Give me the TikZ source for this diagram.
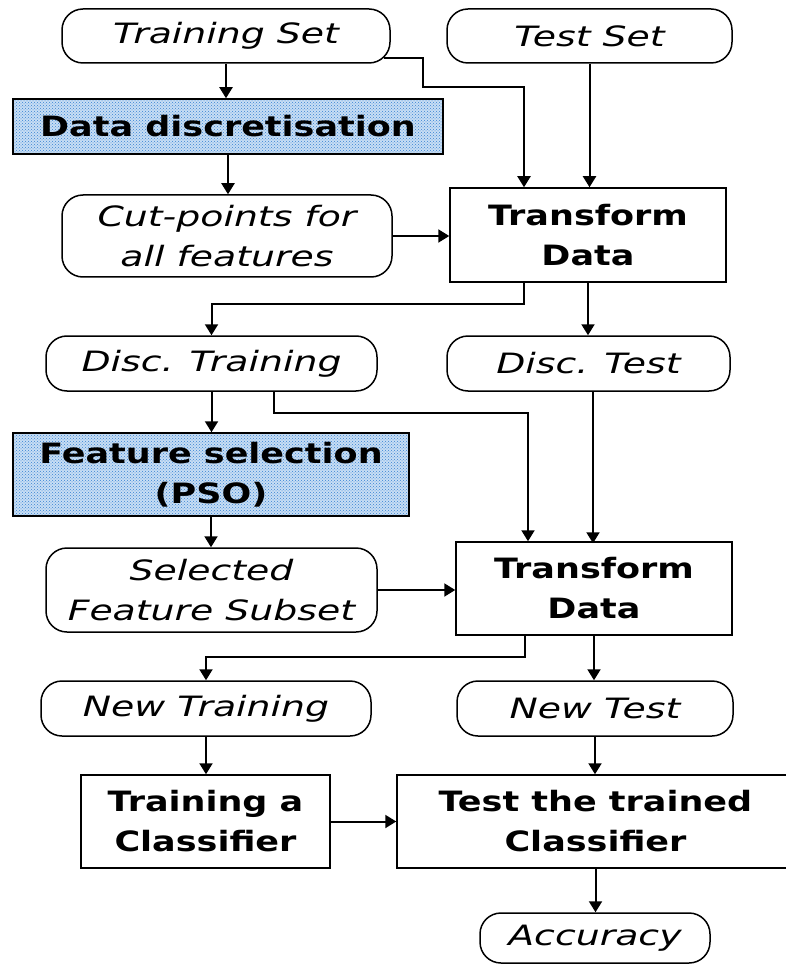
\documentclass[tikz,border=0pt]{standalone}
\usepackage{fontspec}
\usetikzlibrary{arrows.meta,patterns}
\newfontfamily\itf{DejaVu Sans}[FakeStretch=1.35]
\newfontfamily\bff{DejaVu Sans}[FakeStretch=1.25]
\definecolor{dotfill}{RGB}{200,222,244}
\definecolor{dotcol}{RGB}{55,130,210}
\tikzset{
  base/.style={draw, line width=1.5pt, inner sep=0pt, align=center, text=black},
  rbox/.style={base, rounded corners=21pt, font=\itf\itshape\fontsize{28}{40}\selectfont},
  sbox/.style={base, font=\bff\bfseries\fontsize{28}{40}\selectfont},
  dbox/.style={sbox, preaction={fill=dotfill}, pattern=crosshatch dots, pattern color=dotcol},
  arr/.style={line width=2pt, -{Triangle[length=11pt,width=13pt]}},
}
\begin{document}
\begin{tikzpicture}[x=1pt,y=-1pt]
\useasboundingbox (0,0) rectangle (785,965);
\fill[white] (0,0) rectangle (785,965);
% nodes
\node[rbox, minimum width=328pt, minimum height=54pt] (ts) at (226,36) {Training Set};
\node[rbox, minimum width=285pt, minimum height=54pt] (tst) at (589.5,36) {Test Set};
\node[dbox, minimum width=430pt, minimum height=55pt] (dd) at (228,126.5) {Data discretisation};
\node[rbox, minimum width=330pt, minimum height=82pt] (cp) at (227,236) {Cut-points for\\all features};
\node[sbox, minimum width=276pt, minimum height=94pt] (td1) at (588,235) {Transform\\Data};
\node[rbox, minimum width=331pt, minimum height=55pt] (dtr) at (211.5,363.5) {Disc. Training};
\node[rbox, minimum width=283pt, minimum height=55pt] (dte) at (588.5,363.5) {Disc. Test};
\node[dbox, minimum width=396pt, minimum height=83pt] (fs) at (211,474.5) {Feature selection\\(PSO)};
\node[rbox, minimum width=331pt, minimum height=84pt] (sfs) at (211.5,590) {Selected\\Feature Subset};
\node[sbox, minimum width=276pt, minimum height=93pt] (td2) at (594,588.5) {Transform\\Data};
\node[rbox, minimum width=330pt, minimum height=55pt] (nt) at (206,708.5) {New Training};
\node[rbox, minimum width=276pt, minimum height=55pt] (nte) at (595,708.5) {New Test};
\node[sbox, minimum width=249pt, minimum height=93pt] (tc) at (205.5,821.5) {Training a\\Classifier};
\node[sbox, minimum width=397pt, minimum height=93pt] (ttc) at (595.5,821.5) {Test the trained\\Classifier};
\node[rbox, minimum width=230pt, minimum height=50pt] (acc) at (595,938) {Accuracy};
% connectors
\coordinate (j1) at (423,87);
\draw[arr] (ts.south) -- (ts.south |- dd.north);
\draw[arr] ([xshift=-7pt,yshift=6pt]ts.south east) -| (j1) -| ([xshift=-64pt]td1.north);
\draw[arr] (tst.south) -- (tst.south |- td1.north);
\draw[arr] (dd.south) -- (dd.south |- cp.north);
\draw[arr] (cp.east) -- (cp.east -| td1.west);
\draw[arr] ([xshift=-64pt]td1.south) -- ++(0,21) -| (dtr.north);
\draw[arr] (td1.south) -- (td1.south |- dte.north);
\draw[arr] (dtr.south) -- (dtr.south |- fs.north);
\draw[arr] ([xshift=62.5pt]dtr.south) -- ++(0,21) -| ([xshift=-66pt]td2.north);
\draw[arr] ([xshift=4.5pt]dte.south) -- ++(0,151.5);
\draw[arr] (fs.south) -- (fs.south |- sfs.north);
\draw[arr] (sfs.east) -- (sfs.east -| td2.west);
\draw[arr] ([xshift=-69pt]td2.south) -- ++(0,21) -| (nt.north);
\draw[arr] (td2.south) -- (td2.south |- nte.north);
\draw[arr] (nt.south) -- (nt.south |- tc.north);
\draw[arr] (nte.south) -- (nte.south |- ttc.north);
\draw[arr] (tc.east) -- (tc.east -| ttc.west);
\draw[arr] (ttc.south) -- (ttc.south |- acc.north);
\end{tikzpicture}
\end{document}
